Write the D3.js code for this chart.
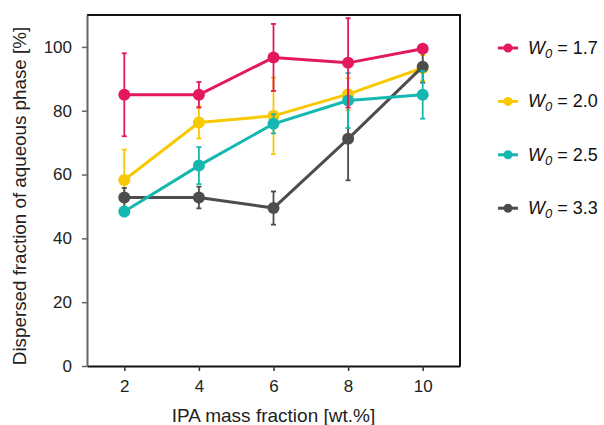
<!DOCTYPE html>
<html>
<head>
<meta charset="utf-8">
<script src="https://cdn.jsdelivr.net/npm/d3@7"></script>
<style>
  body { margin: 0; background: #fff; }
  svg { font-family: "Liberation Sans", Arial, sans-serif; }
</style>
</head>
<body>
<div id="chart"></div>
<script>
// Data
const ipa = [2, 4, 6, 8, 10];
const seriesNames = ["1.7", "2.0", "2.5", "3.3"];
const colors = ["#e3195b", "#f8c900", "#14b8b0", "#4d4d4d"];
const w17 = [85, 85, 96.7, 95, 99.4];
const w17err = [13, 4, 10.5, 14, 1];
const w20 = [58.3, 76.3, 78.4, 85.2, 93.4];
const w20err = [9.5, 5, 12, 5, 4];
const w25 = [48.4, 62.8, 75.9, 83.2, 85];
const w25err = [1.5, 5.8, 3, 8.6, 7.5];
const w33 = [52.8, 52.8, 49.5, 71.2, 93.8];
const w33err = [3, 3.4, 5.2, 13, 5];
const yTicks = [0, 20, 40, 60, 80, 100];

const series = [
  { name: seriesNames[0], color: colors[0], values: w17, err: w17err },
  { name: seriesNames[1], color: colors[1], values: w20, err: w20err },
  { name: seriesNames[2], color: colors[2], values: w25, err: w25err },
  { name: seriesNames[3], color: colors[3], values: w33, err: w33err }
];
// drawing order (red ends on top)
const drawOrder = [1, 3, 2, 0];

const width = 604;
const height = 425;
const marginLeft = 87;
const marginRight = 144;
const marginTop = 15;
const marginBottom = 59;

const svg = d3.select("#chart").append("svg")
    .attr("width", width)
    .attr("height", height);

const x = d3.scaleLinear()
    .domain([1, 11])
    .range([marginLeft, width - marginRight]);

const y = d3.scaleLinear()
    .domain([0, 110])
    .range([height - marginBottom, marginTop]);

// Frame (top and right)
svg.append("path")
    .attr("d", `M${marginLeft},${marginTop}H${width - marginRight}V${height - marginBottom}`)
    .attr("fill", "none")
    .attr("stroke", "#111")
    .attr("stroke-width", 2);

// X axis
const gx = svg.append("g")
    .attr("transform", `translate(0,${height - marginBottom})`)
    .call(d3.axisBottom(x).tickValues(ipa).tickSize(5).tickSizeOuter(0));
gx.select(".domain").attr("stroke", "#111").attr("stroke-width", 2);
gx.selectAll(".tick line").attr("stroke", "#333").attr("stroke-width", 1.5);
gx.selectAll(".tick text")
    .attr("font-size", 17)
    .attr("fill", "#222")
    .attr("dy", "1.05em");

// Y axis
const gy = svg.append("g")
    .attr("transform", `translate(${marginLeft},0)`)
    .call(d3.axisLeft(y).tickValues(yTicks).tickSize(5).tickSizeOuter(0));
gy.select(".domain").attr("stroke", "#666").attr("stroke-width", 2);
gy.selectAll(".tick line").attr("stroke", "#666").attr("stroke-width", 1.5);
gy.selectAll(".tick text")
    .attr("font-size", 17)
    .attr("fill", "#222")
    .attr("x", -15);

// Axis titles
svg.append("text")
    .attr("x", x(6))
    .attr("y", height - 3)
    .attr("text-anchor", "middle")
    .attr("font-size", 19)
    .attr("fill", "#222")
    .text("IPA mass fraction [wt.%]");

svg.append("text")
    .attr("transform", "rotate(-90)")
    .attr("x", -196)
    .attr("y", 26)
    .attr("text-anchor", "middle")
    .attr("font-size", 18.8)
    .attr("fill", "#222")
    .text("Dispersed fraction of aqueous phase [%]");

const line = d3.line()
    .x((d, i) => x(ipa[i]))
    .y(d => y(d));

drawOrder.forEach(k => {
    const s = series[k];
    const g = svg.append("g");

    // error bars
    const eb = g.selectAll(".err")
        .data(s.values)
        .enter()
        .append("g");
    eb.append("line")
        .attr("x1", (d, i) => x(ipa[i]))
        .attr("x2", (d, i) => x(ipa[i]))
        .attr("y1", (d, i) => y(d + s.err[i]))
        .attr("y2", (d, i) => y(d - s.err[i]))
        .attr("stroke", s.color)
        .attr("stroke-width", 1.8);
    [1, -1].forEach(sign => {
        eb.append("line")
            .attr("x1", (d, i) => x(ipa[i]) - 2.5)
            .attr("x2", (d, i) => x(ipa[i]) + 2.5)
            .attr("y1", (d, i) => y(d + sign * s.err[i]))
            .attr("y2", (d, i) => y(d + sign * s.err[i]))
            .attr("stroke", s.color)
            .attr("stroke-width", 1.8);
    });

    g.append("path")
        .datum(s.values)
        .attr("d", line)
        .attr("fill", "none")
        .attr("stroke", s.color)
        .attr("stroke-width", 3);

    g.selectAll("circle")
        .data(s.values)
        .enter()
        .append("circle")
        .attr("cx", (d, i) => x(ipa[i]))
        .attr("cy", d => y(d))
        .attr("r", 6)
        .attr("fill", s.color);
});

// Legend
const legend = svg.append("g")
    .attr("transform", "translate(498,48)");
series.forEach((s, i) => {
    const row = legend.append("g")
        .attr("transform", `translate(0,${i * 53.4})`);
    row.append("line")
        .attr("x1", 0).attr("x2", 20)
        .attr("y1", 0).attr("y2", 0)
        .attr("stroke", s.color)
        .attr("stroke-width", 3);
    row.append("circle")
        .attr("cx", 10).attr("cy", 0).attr("r", 4.5)
        .attr("fill", s.color);
    const t = row.append("text")
        .attr("x", 30)
        .attr("y", 6)
        .attr("font-size", 18)
        .attr("fill", "#111");
    t.append("tspan").attr("font-style", "italic").text("W");
    t.append("tspan").attr("font-style", "italic").attr("font-size", 13).attr("dy", 4).text("0");
    t.append("tspan").attr("dy", -4).text(" = " + s.name);
});
</script>
</body>
</html>
